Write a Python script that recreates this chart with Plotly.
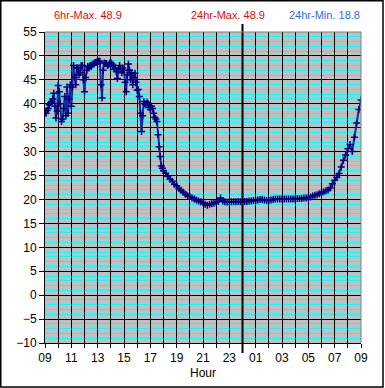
import plotly.graph_objects as go

# ---- data: 5-minute readings 09:00-17:55, 10-minute readings afterwards ----
minutes_from_start = list(range(0, 540, 5)) + list(range(540, 1441, 10))
temps = [
    # 09:00 - 17:55 (5-minute)
    38.2, 38.0, 38.6, 39.0, 39.8, 40.2, 40.5, 41.0, 42.2, 39.5,
    37.0, 38.5, 43.8, 42.5, 40.0, 36.3, 36.8, 39.0, 41.5, 37.5,
    43.5, 38.0, 41.0, 44.0, 39.5, 43.5, 48.0, 45.5, 44.0, 47.5,
    47.5, 46.0, 46.5, 48.0, 48.0, 45.0, 42.5, 45.5, 47.0, 47.8,
    47.5, 48.0, 47.8, 48.2, 48.3, 48.5, 48.6, 48.7, 48.8, 48.9,
    48.9, 44.0, 41.2, 47.0, 48.5, 48.4, 48.4, 48.0, 48.2, 48.5,
    48.6, 48.3, 48.0, 47.2, 47.5, 46.8, 45.3, 47.2, 48.0, 47.3,
    46.5, 47.5, 47.0, 44.5, 42.5, 46.0, 48.3, 47.0, 45.0, 46.5,
    44.0, 45.5, 46.4, 44.5, 42.8, 43.0, 41.5, 38.0, 34.2, 37.5,
    40.5, 40.0, 39.8, 40.3, 40.0, 39.2, 38.8, 39.5, 39.0, 38.0,
    37.2, 36.8, 36.3, 33.5, 31.0, 29.0, 27.0, 26.5,
    # 18:00 - 09:00 (10-minute)
    26.0, 25.5, 24.8, 24.2, 23.8, 23.2,
    22.8, 22.3, 21.9, 21.5, 21.1, 20.8, 20.6, 20.3, 20.1, 19.9,
    19.7, 19.5, 19.3, 19.0, 18.8, 19.0, 19.1, 19.2, 19.4, 19.6,
    20.3, 19.7, 19.5, 19.4, 19.5, 19.5, 19.5, 19.5, 19.6, 19.5,
    19.5, 19.6, 19.6, 19.7, 19.7, 19.8, 19.8, 19.9, 20.0, 20.0,
    19.9, 19.8, 19.8, 19.9, 20.0, 20.1, 20.1, 20.1, 20.1, 20.1,
    20.1, 20.1, 20.1, 20.1, 20.1, 20.2, 20.2, 20.2, 20.3, 20.3,
    20.4, 20.5, 20.7, 20.9, 21.0, 21.2, 21.4, 21.6, 21.8, 22.0,
    22.4, 23.3, 24.0, 24.6, 25.4, 26.8, 28.2, 29.3, 30.6, 31.5,
    30.0, 33.0, 36.0, 38.8, 40.8,
]
hour_ticks = list(range(0, 25))
hour_labels = ["09", "", "11", "", "13", "", "15", "", "17", "", "19", "", "21", "",
               "23", "", "01", "", "03", "", "05", "", "07", "", "09"]
y_ticks = [-10, -5, 0, 5, 10, 15, 20, 25, 30, 35, 40, 45, 50, 55]
midnight_hour = 15
header_texts = ["6hr-Max. 48.9", "24hr-Max. 48.9", "24hr-Min. 18.8"]
header_colors = ["#FF0000", "#FF0000", "#3366FF"]

hours = [m / 60 for m in minutes_from_start]

FONT = "Liberation Sans, Arial, sans-serif"

fig = go.Figure()
fig.add_trace(go.Scatter(
    x=hours, y=temps, mode="lines+markers",
    line=dict(color="#1a2a9a", width=2.0),
    marker=dict(symbol="cross-thin", size=5, color="#000080",
                line=dict(width=1.5, color="#000080")),
    hoverinfo="skip", showlegend=False,
))

W, H = 385, 388
L, R, T, B = 45, 24, 32, 45
pw, ph = W - L - R, H - T - B

shapes = [
    # midnight bold line
    dict(type="line", xref="x", yref="paper", x0=midnight_hour, x1=midnight_hour,
         y0=-10 / ph, y1=1 + 8 / ph, line=dict(color="black", width=2), layer="above"),
    # grey frame top/right
    dict(type="line", xref="paper", yref="paper", x0=0, x1=1, y0=1, y1=1,
         line=dict(color="#808080", width=1), layer="above"),
    dict(type="line", xref="paper", yref="paper", x0=1, x1=1, y0=0, y1=1,
         line=dict(color="#808080", width=1), layer="above"),
    # outer frame
    dict(type="rect", xref="paper", yref="paper",
         x0=(0.75 - L) / pw, x1=(383 - L) / pw,
         y0=-(387 - (T + ph)) / ph, y1=1 + (T - 0.75) / ph,
         line=dict(color="black", width=1.5), layer="above"),
]

header_x = [87.5, 228, 324]
annotations = []
for txt, col, xp in zip(header_texts, header_colors, header_x):
    annotations.append(dict(
        text=txt, xref="paper", yref="paper", x=(xp - L) / pw, y=1 + (T - 15) / ph,
        xanchor="center", yanchor="middle", showarrow=False,
        font=dict(family=FONT, size=11, color=col)))

fig.update_layout(
    width=W, height=H,
    margin=dict(l=L, r=R, t=T, b=B, pad=0, autoexpand=False),
    paper_bgcolor="white", plot_bgcolor="#C0C0C0",
    font=dict(family=FONT, size=12, color="black"),
    shapes=shapes, annotations=annotations,
    xaxis=dict(range=[0, 24], tickvals=hour_ticks, ticktext=hour_labels,
               showgrid=True, gridcolor="black", gridwidth=1,
               showline=True, linecolor="black", linewidth=1,
               ticks="outside", ticklen=4, tickcolor="black",
               title=dict(text="Hour", font=dict(size=12), standoff=4),
               zeroline=False, fixedrange=True),
    yaxis=dict(range=[-10, 55], tickvals=y_ticks,
               showgrid=True, gridcolor="black", gridwidth=1,
               showline=True, linecolor="black", linewidth=1,
               ticks="outside", ticklen=5, tickcolor="black",
               zeroline=False, fixedrange=True,
               minor=dict(dtick=1, showgrid=True, gridcolor="#00FFFF", gridwidth=1)),
)

fig.write_html("out.html", config={"displayModeBar": False},
               post_script="document.body.style.margin='0';document.body.style.overflow='hidden';")
